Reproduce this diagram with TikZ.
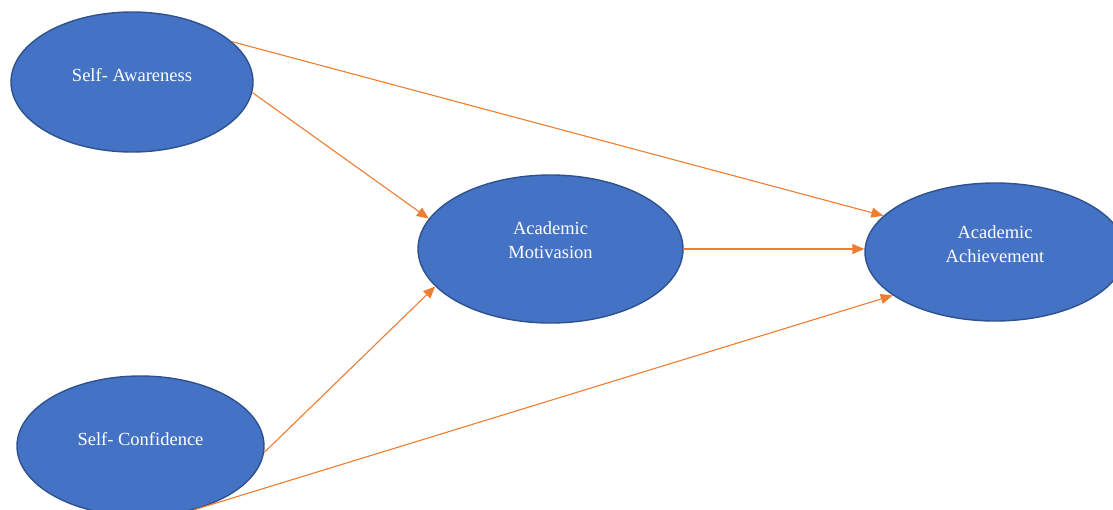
\documentclass[tikz,border=0pt]{standalone}
\usepackage{fontspec}
\setmainfont{Liberation Serif}
\usetikzlibrary{shapes.geometric,arrows.meta}
\definecolor{fillblue}{HTML}{4472C4}
\definecolor{edgeblue}{HTML}{2F528F}
\definecolor{arrorange}{HTML}{ED7D31}
\begin{document}
\begin{tikzpicture}[x=1pt,y=-1pt,
  oval/.style={ellipse,draw=edgeblue,line width=1.4pt,fill=fillblue,inner sep=0pt},
  ovaltext/.style={text=white,font=\fontsize{18.5}{24}\selectfont,align=center},
  conn/.style={draw=arrorange,line width=1.1pt,-{Triangle[length=12pt,width=10pt]}}]
\useasboundingbox (0,0) rectangle (1113,509);
\clip (0,0) rectangle (1113,509);
\node[oval,minimum width=242pt,minimum height=140pt,
  label={[ovaltext,yshift=7pt]center:Self- Awareness}] (sa) at (132,82) {};
\node[oval,minimum width=247pt,minimum height=140pt,
  label={[ovaltext,yshift=7pt]center:Self- Confidence}] (sc) at (140.5,446) {};
\node[oval,minimum width=265pt,minimum height=148pt,
  label={[ovaltext,yshift=9pt]center:Academic\\Motivasion}] (mot) at (550.5,249) {};
\node[oval,minimum width=260pt,minimum height=138pt,
  label={[ovaltext,yshift=8pt]center:Academic\\Achievement}] (ach) at (995,252) {};
\draw[conn] (sa.22) -- (ach.162);
\draw[conn] (sa.-5) -- (mot.166);
\draw[conn] (mot.east) -- (mot.east -| ach.west);
\draw[conn] (sc.-3) -- (mot.198);
\draw[conn] (sc.-50) -- (ach.203);
\end{tikzpicture}
\end{document}
